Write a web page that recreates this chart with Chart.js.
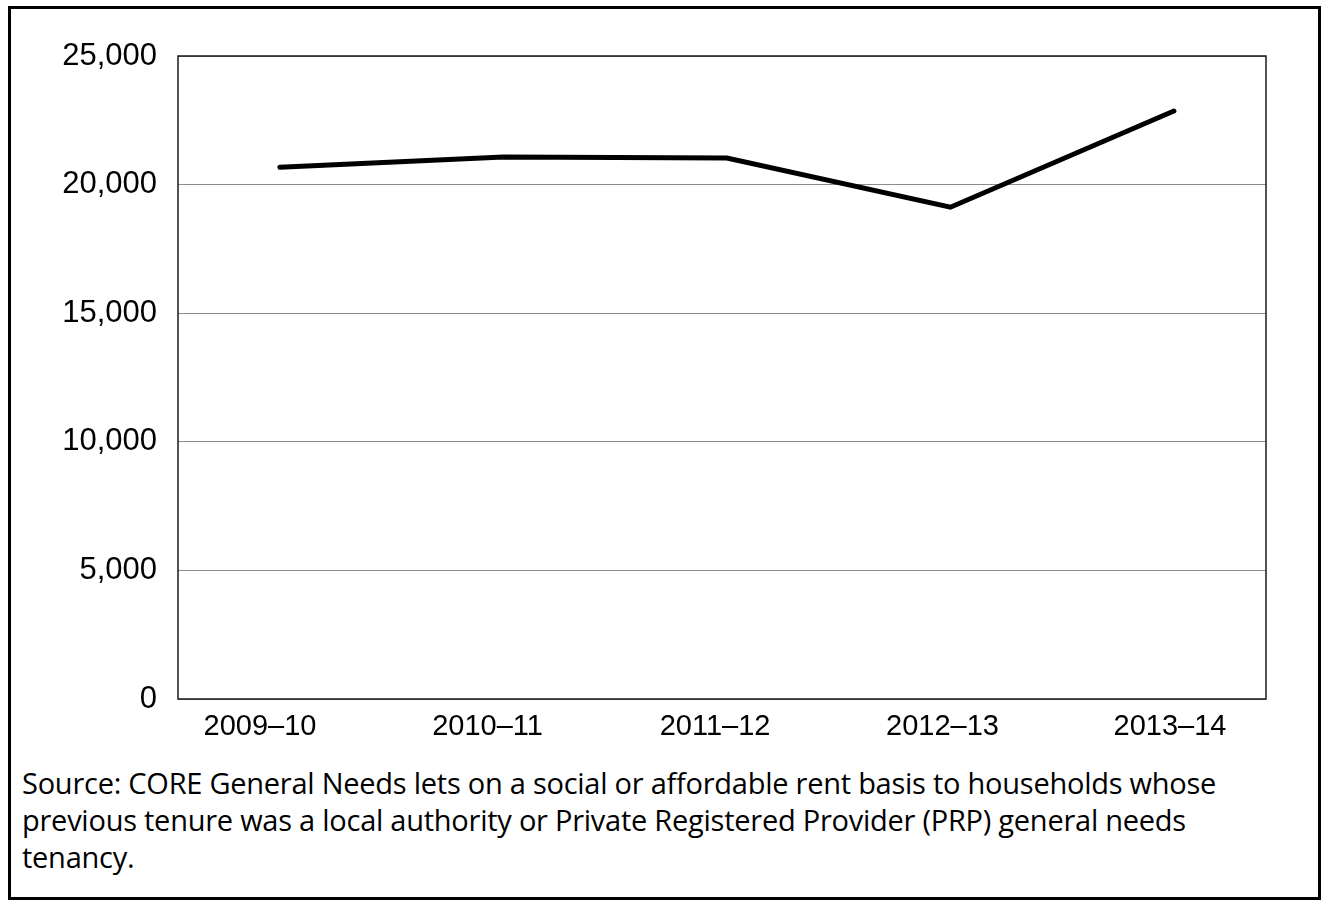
<!DOCTYPE html>
<html>
<head>
<meta charset="utf-8">
<script src="https://cdn.jsdelivr.net/npm/chart.js@4/dist/chart.umd.min.js"></script>
<style>
    html, body { margin: 0; padding: 0; background: #fff; }
    body { width: 1324px; height: 904px; position: relative; overflow: hidden; }
    #frame {
        position: absolute; left: 8px; top: 6px; width: 1307px; height: 888px;
        border: 3px solid #000;
    }
    #chartBox { position: absolute; left: 10px; top: 10px; width: 1300px; height: 739px; }
    #source {
        position: absolute; left: 22px; top: 764px; width: 1290px;
        font-family: "Open Sans", sans-serif; font-size: 29px; line-height: 37px;
        color: #000; letter-spacing: -0.25px; white-space: nowrap;
    }
</style>
</head>
<body>
<div id="frame"></div>
<div id="chartBox"><canvas id="lineChart"></canvas></div>
<div id="source">Source: CORE General Needs lets on a social or affordable rent basis to households whose<br>previous tenure was a local authority or Private Registered Provider (PRP) general needs<br>tenancy.</div>
<script>
const years = ['2009–10', '2010–11', '2011–12', '2012–13', '2013–14'];
const lets = [20670, 21075, 21030, 19120, 22860];
const yTicks = [0, 5000, 10000, 15000, 20000, 25000];

// frame round the plot area
const plotFrame = {
    id: 'plotFrame',
    afterDraw(chart) {
        const { ctx, chartArea: a } = chart;
        ctx.save();
        ctx.strokeStyle = '#1a1a1a';
        ctx.lineWidth = 1.5;
        ctx.strokeRect(a.left, a.top, a.right - a.left, a.bottom - a.top);
        ctx.restore();
    }
};

document.addEventListener('DOMContentLoaded', () => {
    const ctx = document.getElementById('lineChart').getContext('2d');
    new Chart(ctx, {
        type: 'line',
        data: {
            datasets: [{
                label: 'Lets',
                data: lets.map((v, i) => ({ x: i, y: v })),
                borderColor: '#000',
                borderWidth: 5,
                borderCapStyle: 'round',
                borderJoinStyle: 'miter',
                pointRadius: 0,
                tension: 0,
                fill: false
            }]
        },
        options: {
            responsive: true,
            maintainAspectRatio: false,
            animation: false,
            layout: { padding: { top: 46, right: 44, left: 0, bottom: 0 } },
            plugins: { legend: { display: false }, tooltip: { enabled: false } },
            scales: {
                x: {
                    type: 'linear',
                    display: false,
                    min: -0.456,
                    max: 4.412
                },
                xLab: {
                    type: 'linear',
                    position: 'bottom',
                    min: -0.3606,
                    max: 4.422,
                    afterBuildTicks: s => { s.ticks = years.map((y, i) => ({ value: i })); },
                    afterFit: s => { s.height = 50; },
                    grid: { display: false, drawTicks: false },
                    border: { display: false },
                    ticks: {
                        padding: 11,
                        color: '#000',
                        maxRotation: 0,
                        font: { family: 'Liberation Sans, Arial, sans-serif', size: 29 },
                        callback: v => years[v]
                    }
                },
                y: {
                    min: 0,
                    max: 25000,
                    afterBuildTicks: s => { s.ticks = yTicks.map(v => ({ value: v })); },
                    afterFit: s => { s.width = 168; },
                    grid: { color: '#8c8c8c', lineWidth: 1, drawTicks: false },
                    border: { display: false },
                    ticks: {
                        padding: 21,
                        color: '#000',
                        font: { family: 'Liberation Sans, Arial, sans-serif', size: 31 },
                        callback: v => v.toLocaleString('en-GB')
                    }
                }
            }
        },
        plugins: [plotFrame]
    });
});
</script>
</body>
</html>
